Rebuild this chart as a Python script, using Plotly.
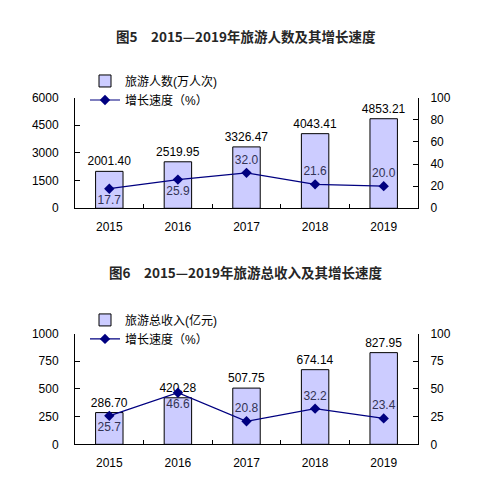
import plotly.graph_objects as go

years = ["2015", "2016", "2017", "2018", "2019"]
visitors = [2001.40, 2519.95, 3326.47, 4043.41, 4853.21]
visitor_growth = [17.7, 25.9, 32.0, 21.6, 20.0]
visitor_growth_pos = ["bottom center", "bottom center", "top center", "top center", "top center"]
income = [286.70, 420.28, 507.75, 674.14, 827.95]
income_growth = [25.7, 46.6, 20.8, 32.2, 23.4]
income_growth_pos = ["bottom center", "bottom center", "top center", "top center", "top center"]

title1 = "图5　2015—2019年旅游人数及其增长速度"
title2 = "图6　2015—2019年旅游总收入及其增长速度"
bar1_name = "旅游人数(万人次)"
bar2_name = "旅游总收入(亿元)"
line_name = "增长速度（%）"

left_ticks1 = [0, 1500, 3000, 4500, 6000]
left_ticks2 = [0, 250, 500, 750, 1000]
right_ticks1 = [0, 20, 40, 60, 80, 100]
right_ticks2 = [0, 25, 50, 75, 100]

FONT = "Liberation Sans, Arial, Noto Sans CJK SC"
BAR_FILL = "#CCCCFF"
NAVY = "#000080"
LBL = "#333355"

W, H = 482, 488
OFF = 8  # page body margin


def px(x):
    return (x - OFF) / W


def py(y):
    return 1 - (y - OFF) / H


fig = go.Figure()

fig.add_trace(go.Bar(
    x=years, y=visitors, name=bar1_name, xaxis="x", yaxis="y",
    marker=dict(color=BAR_FILL, line=dict(color="black", width=1)),
    text=[f"{v:.2f}" for v in visitors], textposition="outside", constraintext="none",
    textfont=dict(color="black", size=12, family=FONT), cliponaxis=False,
    legend="legend",
))
fig.add_trace(go.Scatter(
    x=years, y=visitor_growth, name=line_name, xaxis="x", yaxis="y2",
    mode="lines+markers+text",
    line=dict(color=NAVY, width=1.2),
    marker=dict(symbol="diamond", size=8, color=NAVY),
    text=[f"{v:.1f}" for v in visitor_growth], textposition=visitor_growth_pos,
    textfont=dict(color=LBL, size=12, family=FONT), cliponaxis=False,
    legend="legend",
))
fig.add_trace(go.Bar(
    x=years, y=income, name=bar2_name, xaxis="x2", yaxis="y3",
    marker=dict(color=BAR_FILL, line=dict(color="black", width=1)),
    text=[f"{v:.2f}" for v in income], textposition="outside", constraintext="none",
    textfont=dict(color="black", size=12, family=FONT), cliponaxis=False,
    legend="legend2",
))
fig.add_trace(go.Scatter(
    x=years, y=income_growth, name=line_name, xaxis="x2", yaxis="y4",
    mode="lines+markers+text",
    line=dict(color=NAVY, width=1.2),
    marker=dict(symbol="diamond", size=8, color=NAVY),
    text=[f"{v:.1f}" for v in income_growth], textposition=income_growth_pos,
    textfont=dict(color=LBL, size=12, family=FONT), cliponaxis=False,
    legend="legend2",
))

xd = [px(75), px(418)]
yd1 = [py(207), py(93)]
yd2 = [py(450), py(336)]


def xax(anchor):
    return dict(domain=xd, anchor=anchor, type="category", range=[-0.5, 4.5],
                showline=True, linecolor="black", linewidth=1,
                ticks="inside", tickson="boundaries", ticklen=4, tickcolor="black",
                showgrid=False, ticklabelstandoff=7,
                tickfont=dict(size=12, color="black", family=FONT))


def yax(domain, rng, vals, anchor, side="left", overlaying=None):
    d = dict(domain=domain, range=rng, tickvals=vals, anchor=anchor, side=side,
             showline=True, linecolor="black", linewidth=1,
             ticks="inside", ticklen=5, tickcolor="black",
             showgrid=False, zeroline=False,
             ticklabelstandoff=13 if side == "left" else 9,
             tickfont=dict(size=12, color="black", family=FONT))
    if overlaying:
        d["overlaying"] = overlaying
    return d


legend_common = dict(xanchor="left", yanchor="top", bgcolor="rgba(0,0,0,0)",
                     font=dict(size=12, color="black", family=FONT),
                     tracegroupgap=0, itemwidth=30, traceorder="normal")

fig.update_layout(
    width=W, height=H,
    margin=dict(l=0, r=0, t=0, b=0),
    paper_bgcolor="white", plot_bgcolor="white",
    bargap=0.6,
    xaxis=xax("y"),
    yaxis=yax(yd1, [0, 6000], left_ticks1, "x"),
    yaxis2=yax(yd1, [0, 100], right_ticks1, "x", side="right", overlaying="y"),
    xaxis2=xax("y3"),
    yaxis3=yax(yd2, [0, 1000], left_ticks2, "x2"),
    yaxis4=yax(yd2, [0, 100], right_ticks2, "x2", side="right", overlaying="y3"),
    legend=dict(x=px(85), y=py(61), **legend_common),
    legend2=dict(x=px(85), y=py(307), **legend_common),
    annotations=[
        dict(text=f"<b>{title1}</b>", x=px(245.5), y=py(30), xref="paper", yref="paper",
             xanchor="center", yanchor="middle", showarrow=False,
             font=dict(size=13.5, color="#262626", family="Noto Sans CJK SC")),
        dict(text=f"<b>{title2}</b>", x=px(245.5), y=py(273), xref="paper", yref="paper",
             xanchor="center", yanchor="middle", showarrow=False,
             font=dict(size=13.5, color="#262626", family="Noto Sans CJK SC")),
    ],
)

fig.write_html("out.html")
